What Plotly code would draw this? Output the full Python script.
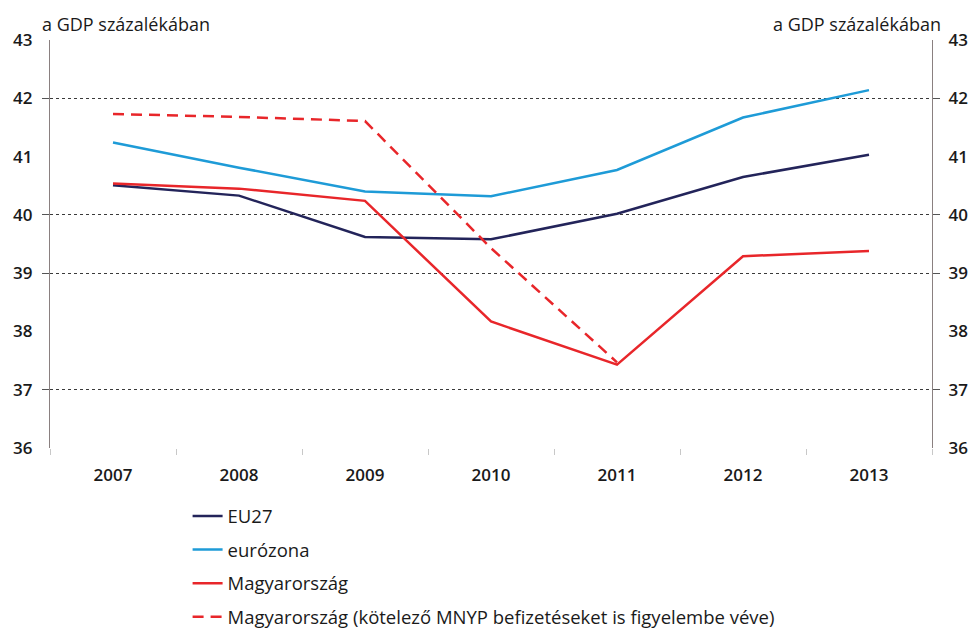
import plotly.graph_objects as go

years = ["2007", "2008", "2009", "2010", "2011", "2012", "2013"]
eu27 = [40.51, 40.33, 39.62, 39.58, 40.02, 40.65, 41.03]
eurozona = [41.24, 40.81, 40.40, 40.32, 40.77, 41.67, 42.14]
magyarorszag = [40.54, 40.45, 40.24, 38.17, 37.43, 39.29, 39.38]
magyarorszag_mnyp = [41.73, 41.68, 41.61, 39.43, 37.47, None, None]

y_ticks = [36, 37, 38, 39, 40, 41, 42, 43]
grid_values = [37, 39, 40, 42]
axis_title = "a GDP százalékában"

names = ["EU27", "eurózona", "Magyarország",
         "Magyarország (kötelező MNYP befizetéseket is figyelembe véve)"]
colors = ["#23245A", "#1E9BD7", "#E8262A", "#E8262A"]
dashes = ["solid", "solid", "solid", "11px,7px"]
series = [eu27, eurozona, magyarorszag, magyarorszag_mnyp]

FONT = "Open Sans"

fig = go.Figure()
for i, (name, vals, col, dash) in enumerate(zip(names, series, colors, dashes)):
    fig.add_trace(go.Scatter(
        x=years, y=vals, name=name, mode="lines",
        line=dict(color=col, width=2.5, dash=dash),
        legendgroup=f"g{i}", connectgaps=False, hoverinfo="skip"))

# empty traces to anchor overlay axes
for ax in ["y2", "y3", "y4"]:
    fig.add_trace(go.Scatter(x=[], y=[], yaxis=ax, showlegend=False, hoverinfo="skip"))

tickfont = dict(family=FONT, size=17, color="#1a1a1a", weight=600)
axis_line = "#8a8080"

fig.update_layout(
    width=968, height=622,
    margin=dict(l=42, r=44, t=32, b=182, autoexpand=False),
    paper_bgcolor="white", plot_bgcolor="white",
    showlegend=True,
    legend=dict(
        x=0.156, y=0.213, yref="container", xanchor="left", yanchor="top",
        orientation="v", traceorder="grouped", tracegroupgap=6.5,
        font=dict(family=FONT, size=18.5, color="#1a1a1a"),
        bgcolor="rgba(0,0,0,0)", itemwidth=30),
    xaxis=dict(
        type="category", categoryorder="array", categoryarray=years,
        range=[-0.5, 6.5], automargin=False,
        showgrid=False, zeroline=False, showline=False,
        ticks="outside", tickson="boundaries", ticklen=6, tickcolor="#c8c8c8",
        tickwidth=1, ticklabelstandoff=15, tickfont=tickfont),
    yaxis=dict(
        range=[36, 43], tickvals=y_ticks, side="left", automargin=False,
        showgrid=False, zeroline=False, showline=True,
        linecolor=axis_line, linewidth=1.3,
        ticks="", ticklabelstandoff=13, tickfont=tickfont),
    yaxis2=dict(
        range=[36, 43], tickvals=y_ticks, side="right", overlaying="y",
        automargin=False,
        showgrid=False, zeroline=False, showline=True,
        linecolor=axis_line, linewidth=1.3,
        ticks="", ticklabelstandoff=12, tickfont=tickfont),
    yaxis3=dict(
        range=[36, 43], tickvals=grid_values, side="left", overlaying="y",
        automargin=False,
        showgrid=True, gridcolor="#3a3a3a", griddash="dot", gridwidth=1,
        zeroline=False, showline=False, showticklabels=False,
        ticks="outside", ticklen=7, tickcolor="#555555", tickwidth=1),
    yaxis4=dict(
        range=[36, 43], tickvals=grid_values, side="right", overlaying="y",
        automargin=False,
        showgrid=False, zeroline=False, showline=False, showticklabels=False,
        ticks="outside", ticklen=7, tickcolor="#555555", tickwidth=1),
    annotations=[
        dict(text=axis_title, xref="paper", yref="paper", x=-0.0113, y=1.0,
             xanchor="left", yanchor="bottom", yshift=2, showarrow=False,
             font=dict(family=FONT, size=18, color="#1a1a1a")),
        dict(text=axis_title, xref="paper", yref="paper", x=1.0125, y=1.0,
             xanchor="right", yanchor="bottom", yshift=2, showarrow=False,
             font=dict(family=FONT, size=18, color="#1a1a1a")),
    ],
)

fig.write_html("out.html")
